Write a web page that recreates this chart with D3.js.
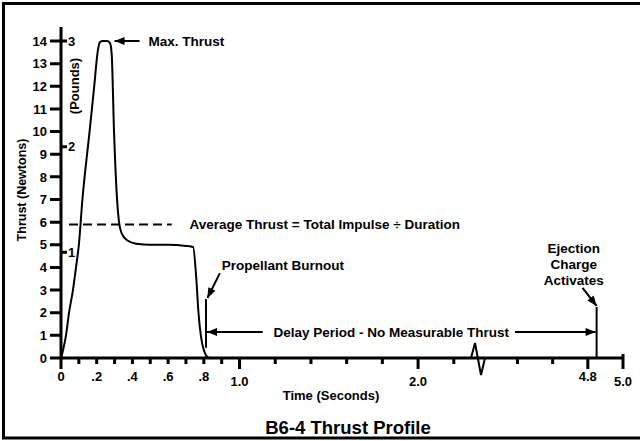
<!DOCTYPE html>
<meta charset="utf-8">
<style>
body { margin: 0; background: #fff; }
text {
	font-family: "Liberation Sans", Arial, Helvetica, sans-serif;
	font-weight: bold;
	fill: #000;
}
.tk { stroke: #000; stroke-width: 2.5; }
.tick-mark { stroke: #000; stroke-width: 3; }
.note { font-size: 13.5px; }
</style>
<body>
<svg width="640" height="441"></svg>
<script src="https://cdn.jsdelivr.net/npm/d3@7/dist/d3.min.js"></script>
<script>

// thrust curve (seconds, newtons)
var timeS   = [0, 0.01, 0.028, 0.045, 0.067, 0.084, 0.10, 0.12, 0.16, 0.186, 0.205, 0.218, 0.235, 0.26, 0.275, 0.284, 0.297, 0.314, 0.325, 0.34, 0.37, 0.42, 0.5, 0.6, 0.7, 0.74, 0.757, 0.77, 0.785, 0.80, 0.815, 0.83];
var thrustN = [0, 0.3, 1, 2, 3, 4, 5, 7, 10, 12, 13.5, 13.95, 14, 14, 13.9, 13.4, 10, 7, 6, 5.5, 5.2, 5.05, 5.0, 5.0, 4.95, 4.9, 3.6, 2.0, 0.9, 0.35, 0.08, 0];

// axes
var yTicksN  = d3.range(0, 15);
var yTicksLb = [1, 2, 3];
var xMajor   = [0, 1.0, 2.0, 4.8, 5.0];
var xMinor   = [0.1, 0.2, 0.3, 0.4, 0.5, 0.6, 0.7, 0.8, 0.9, 1.2, 1.4, 1.6, 1.8, 2.2, 4.4, 4.6];
var xLabels  = [0, 0.2, 0.4, 0.6, 0.8, 1.0, 2.0, 4.8, 5.0];
var xBreak   = [2.33, 4.17];   // time axis jumps from 2.33 s to 4.17 s

// events
var avgThrust = 5.9;
var burnout   = 0.812;
var ejection  = 4.85;

var svg = d3.select("svg");

// picture frame
svg.append("rect")
	.attr("x", 3.5).attr("y", 3.5)
	.attr("width", 700).attr("height", 434.5)
	.attr("fill", "none").attr("stroke", "#000").attr("stroke-width", 3);

// arrow head
svg.append("defs").append("marker")
	.attr("id", "head")
	.attr("viewBox", "0 0 10 8")
	.attr("refX", 10).attr("refY", 4)
	.attr("markerWidth", 11).attr("markerHeight", 8)
	.attr("markerUnits", "userSpaceOnUse")
	.attr("orient", "auto")
	.append("path").attr("d", "M0,0 L10,4 L0,8 Z").attr("fill", "#000");

var x = d3.scaleLinear()
	.domain([0, xBreak[0], xBreak[1], 5.0])
	.range([61, 477, 477, 623]);
var y = d3.scaleLinear().domain([0, 14]).range([358, 41]);
// pounds scale: 3 lb sits level with 14 N on the drawing
var yLb = d3.scaleLinear().domain([0, 3]).range([y(0), y(14)]);

var x0 = x(0), y0 = y(0);

// ticks drawn as one path each, so they can't go missing
function hTicks(vals, scale, from, to) {
	return vals.map(function(d) { var v = scale(d); return "M" + from + "," + v + "H" + to; }).join("");
}
function vTicks(vals, from, to) {
	return vals.map(function(d) { var v = x(d); return "M" + v + "," + from(d) + "V" + to; }).join("");
}

// ---- y axis (newtons on the left, pounds on the right) ----
svg.append("path").attr("class", "tick-mark").attr("fill", "none")
	.attr("d", "M" + x0 + ",27V" + (y0 + 1) +
		hTicks(yTicksN, y, x0 - 11, x0) +
		hTicks(yTicksLb, yLb, x0, x0 + 6));

svg.append("g").selectAll("text").data(yTicksN).enter().append("text")
	.attr("x", x0 - 14).attr("y", function(d) { return y(d); })
	.attr("dy", "0.36em").attr("text-anchor", "end")
	.style("font-size", "13px")
	.text(function(d) { return d; });
svg.append("g").selectAll("text").data(yTicksLb).enter().append("text")
	.attr("x", x0 + 7).attr("y", function(d) { return yLb(d); })
	.attr("dy", "0.36em")
	.style("font-size", "13px")
	.text(function(d) { return d; });

// ---- x axis ----
svg.append("path").attr("class", "tick-mark").attr("fill", "none")
	.attr("d", "M" + (x0 - 1) + "," + y0 + "H" + x(5.0) +
		vTicks(xMinor, function() { return y0; }, y0 + 6) +
		vTicks(xMajor, function(d) { return d === 5 ? y0 - 4 : y0; }, y0 + 11));

// break squiggle
var bx = x(xBreak[0]);
svg.append("path")
	.attr("d", "M" + (bx - 6) + "," + y0 + " L" + (bx - 2) + "," + (y0 - 15) +
		" L" + (bx + 4) + "," + (y0 + 17) + " L" + (bx + 8) + "," + y0)
	.attr("fill", "none").attr("stroke", "#000").attr("stroke-width", 2);

svg.append("g").selectAll("text")
	.data(xLabels).enter().append("text")
	.attr("x", function(d) { return x(d); })
	.attr("y", function(d) { return (d === 1 || d === 2 || d === 5) ? 386 : 381; })
	.attr("text-anchor", "middle")
	.style("font-size", "13px")
	.text(function(d) {
		if (d === 0) return "0";
		if (d < 1) return d3.format(".1f")(d).replace(/^0/, "");
		return d3.format(".1f")(d);
	});

// axis titles
svg.append("text")
	.attr("transform", "translate(26,190) rotate(-90)")
	.attr("text-anchor", "middle")
	.style("font-size", "12.5px")
	.text("Thrust (Newtons)");
svg.append("text")
	.attr("transform", "translate(79,86) rotate(-90)")
	.attr("text-anchor", "middle")
	.style("font-size", "13px")
	.text("(Pounds)");
svg.append("text")
	.attr("x", 331).attr("y", 400)
	.attr("text-anchor", "middle")
	.style("font-size", "13px")
	.text("Time (Seconds)");
svg.append("text")
	.attr("x", 348).attr("y", 434)
	.attr("text-anchor", "middle")
	.style("font-size", "18.5px")
	.text("B6-4 Thrust Profile");

// ---- thrust curve ----
var line = d3.line().curve(d3.curveMonotoneX)
	.x(function(d) { return x(d); })
	.y(function(d, i) { return y(thrustN[i]); });
svg.append("path")
	.attr("d", line(timeS))
	.attr("fill", "none").attr("stroke", "#000").attr("stroke-width", 2);

// ---- annotations ----
// average thrust
svg.append("line")
	.attr("x1", x(0.045)).attr("x2", x(0.62))
	.attr("y1", y(avgThrust)).attr("y2", y(avgThrust))
	.attr("stroke", "#000").attr("stroke-width", 2).attr("stroke-dasharray", "9,5");
svg.append("text").attr("class", "note")
	.attr("x", x(0.72)).attr("y", y(avgThrust) + 5)
	.text("Average Thrust = Total Impulse \u00f7 Duration");

// max thrust
svg.append("line")
	.attr("x1", x(0.44)).attr("x2", x(0.30))
	.attr("y1", y(14)).attr("y2", y(14))
	.attr("stroke", "#000").attr("stroke-width", 2).attr("marker-end", "url(#head)");
svg.append("text").attr("class", "note")
	.attr("x", x(0.49)).attr("y", y(14) + 5)
	.text("Max. Thrust");

// propellant burnout
svg.append("line")
	.attr("x1", x(burnout)).attr("x2", x(burnout))
	.attr("y1", y(0.45)).attr("y2", y(2.6))
	.attr("stroke", "#000").attr("stroke-width", 2);
svg.append("line")
	.attr("x1", x(0.89)).attr("y1", y(3.75))
	.attr("x2", x(0.82)).attr("y2", y(2.65))
	.attr("stroke", "#000").attr("stroke-width", 2).attr("marker-end", "url(#head)");
svg.append("text").attr("class", "note")
	.attr("x", x(0.90)).attr("y", y(3.9))
	.text("Propellant Burnout");

// delay period
var delayY = y(1.15);
svg.append("line")
	.attr("x1", x(1.13)).attr("x2", x(burnout) + 1)
	.attr("y1", delayY).attr("y2", delayY)
	.attr("stroke", "#000").attr("stroke-width", 2).attr("marker-end", "url(#head)");
var delayText = svg.append("text").attr("class", "note")
	.attr("x", x(1.19)).attr("y", delayY + 5)
	.text("Delay Period - No Measurable Thrust");
var delayEnd = x(1.19) + delayText.node().getComputedTextLength();
svg.append("line")
	.attr("x1", delayEnd + 6).attr("x2", x(ejection) - 1)
	.attr("y1", delayY).attr("y2", delayY)
	.attr("stroke", "#000").attr("stroke-width", 2).attr("marker-end", "url(#head)");

// ejection charge
svg.append("line")
	.attr("x1", x(ejection)).attr("x2", x(ejection))
	.attr("y1", y(0)).attr("y2", y(2.25))
	.attr("stroke", "#000").attr("stroke-width", 2);
svg.append("line")
	.attr("x1", x(4.77)).attr("y1", y(3.1))
	.attr("x2", x(ejection)).attr("y2", y(2.3))
	.attr("stroke", "#000").attr("stroke-width", 2).attr("marker-end", "url(#head)");
svg.append("text").attr("class", "note")
	.attr("text-anchor", "middle")
	.attr("x", x(4.72)).attr("y", y(4.65))
	.selectAll("tspan")
	.data(["Ejection", "Charge", "Activates"]).enter().append("tspan")
	.attr("x", x(4.72))
	.attr("dy", function(d, i) { return i ? 16 : 0; })
	.text(function(d) { return d; });

</script>
</body>
